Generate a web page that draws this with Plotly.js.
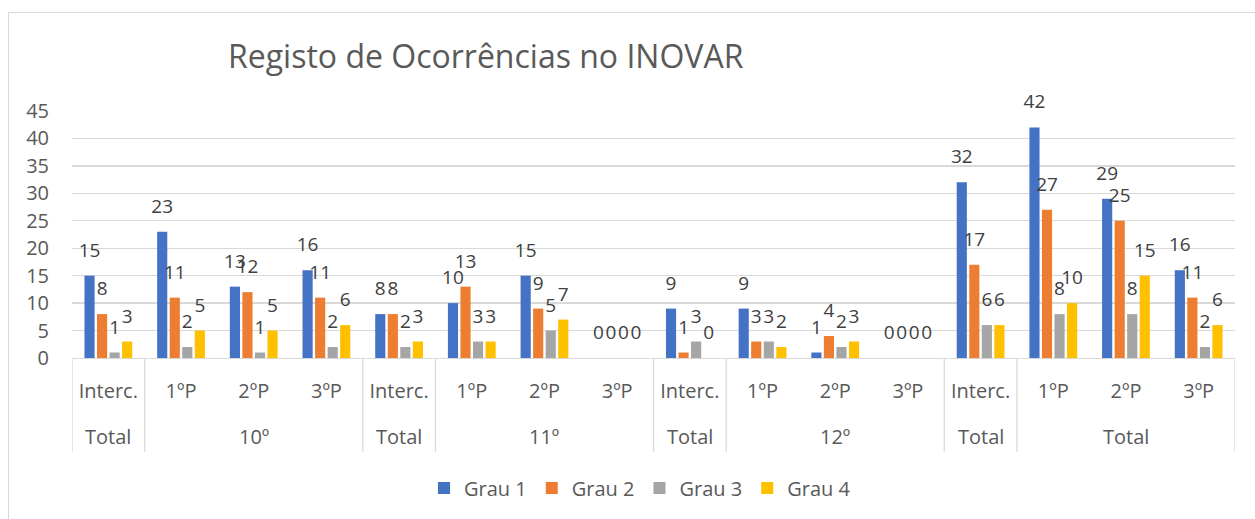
<!DOCTYPE html>
<html>
<head>
<meta charset="utf-8">
<script src="https://cdn.plot.ly/plotly-3.0.1.min.js"></script>
<style>
html,body{margin:0;padding:0;background:#fff;overflow:hidden;}
#wrap{position:relative;width:1255px;height:519px;}
#chart{position:absolute;left:0;top:0;width:1255px;height:519px;z-index:1;}
#frame{position:absolute;left:8px;top:12px;width:1300px;height:600px;border:1px solid #d9d9d9;pointer-events:none;z-index:2;}
</style>
</head>
<body>
<div id="wrap"><div id="chart"></div><div id="frame"></div></div>
<script>
// ---- data ----
const innerLabels = ['Interc.','1ºP','2ºP','3ºP','Interc.','1ºP','2ºP','3ºP','Interc.','1ºP','2ºP','3ºP','Interc.','1ºP','2ºP','3ºP'];
const outerLabels = ['Total','10º','Total','11º','Total','12º','Total','Total'];
const outerSizes  = [1,3,1,3,1,3,1,3];
const seriesNames = ['Grau 1','Grau 2','Grau 3','Grau 4'];
const grau1 = [15,23,13,16, 8,10,15,0, 9,9,1,0, 32,42,29,16];
const grau2 = [ 8,11,12,11, 8,13, 9,0, 1,3,4,0, 17,27,25,11];
const grau3 = [ 1, 2, 1, 2, 2, 3, 5,0, 3,3,2,0,  6, 8, 8, 2];
const grau4 = [ 3, 5, 5, 6, 3, 3, 7,0, 0,2,3,0,  6,10,15, 6];
const title = 'Registo de Ocorrências no INOVAR';

// ---- styling ----
const colors = ['#4472C4','#ED7D31','#A5A5A5','#FFC000'];
const FONT = 'Open Sans, sans-serif';
const xIdx = innerLabels.map((_, i) => i);
const allSeries = [grau1, grau2, grau3, grau4];

const traces = allSeries.map((vals, k) => ({
  type: 'bar',
  name: seriesNames[k],
  x: xIdx,
  y: vals,
  marker: {color: colors[k]},
  text: vals.map(String),
  texttemplate: "<span style='font-size:19px'>%{text}</span><br>\u00a0",
  textposition: 'outside',
  constraintext: 'none',
  cliponaxis: false,
  textfont: {family: FONT, size: 10, color: '#404040'},
  hoverinfo: 'skip'
}));

// outer group labels & dividers
const annotations = [];
const shapes = [];
let start = 0;
const boundaries = [-0.5];
outerLabels.forEach((lab, g) => {
  const n = outerSizes[g];
  const center = start + (n - 1) / 2;
  annotations.push({
    text: lab, x: center, xref: 'x', y: 0, yref: 'paper',
    yanchor: 'middle', yshift: -78, showarrow: false,
    font: {family: FONT, size: 20, color: '#595959'}
  });
  start += n;
  boundaries.push(start - 0.5);
});
boundaries.forEach(b => {
  shapes.push({type: 'line', xref: 'x', yref: 'paper', x0: b, x1: b, y0: 0, y1: -0.38,
    line: {color: '#d9d9d9', width: 1.3}});
});

const layout = {
  width: 1255, height: 519,
  margin: {l: 72, r: 20, t: 111, b: 161},
  paper_bgcolor: '#ffffff', plot_bgcolor: '#ffffff',
  title: {text: title, x: 228/1255, xanchor: 'left', xref: 'container',
          y: 1 - 57/519, yanchor: 'middle', yref: 'container',
          font: {family: FONT, size: 32, color: '#595959'}},
  barmode: 'group', bargap: 0.31, bargroupgap: 0.19,
  showlegend: true,
  legend: {orientation: 'h', xref: 'container', yref: 'container',
           x: 640/1255, xanchor: 'center', y: 1 - 488/519, yanchor: 'middle',
           font: {family: FONT, size: 20, color: '#595959'}},
  xaxis: {
    range: [-0.5, innerLabels.length - 0.5],
    tickmode: 'array', tickvals: xIdx, ticktext: innerLabels,
    ticks: '', ticklabelstandoff: 15,
    tickfont: {family: FONT, size: 20, color: '#595959'},
    showgrid: false, zeroline: false,
    showline: true, linecolor: '#d9d9d9', linewidth: 1.3,
    fixedrange: true
  },
  yaxis: {
    range: [0, 45], dtick: 5, tick0: 0,
    showgrid: true, gridcolor: '#d9d9d9', gridwidth: 1.3,
    zeroline: false, showline: false, ticks: '',
    ticklabelstandoff: 22,
    tickfont: {family: FONT, size: 20, color: '#595959'},
    fixedrange: true
  },
  annotations: annotations,
  shapes: shapes
};

Plotly.newPlot('chart', traces, layout, {displayModeBar: false, staticPlot: true});
</script>
</body>
</html>
